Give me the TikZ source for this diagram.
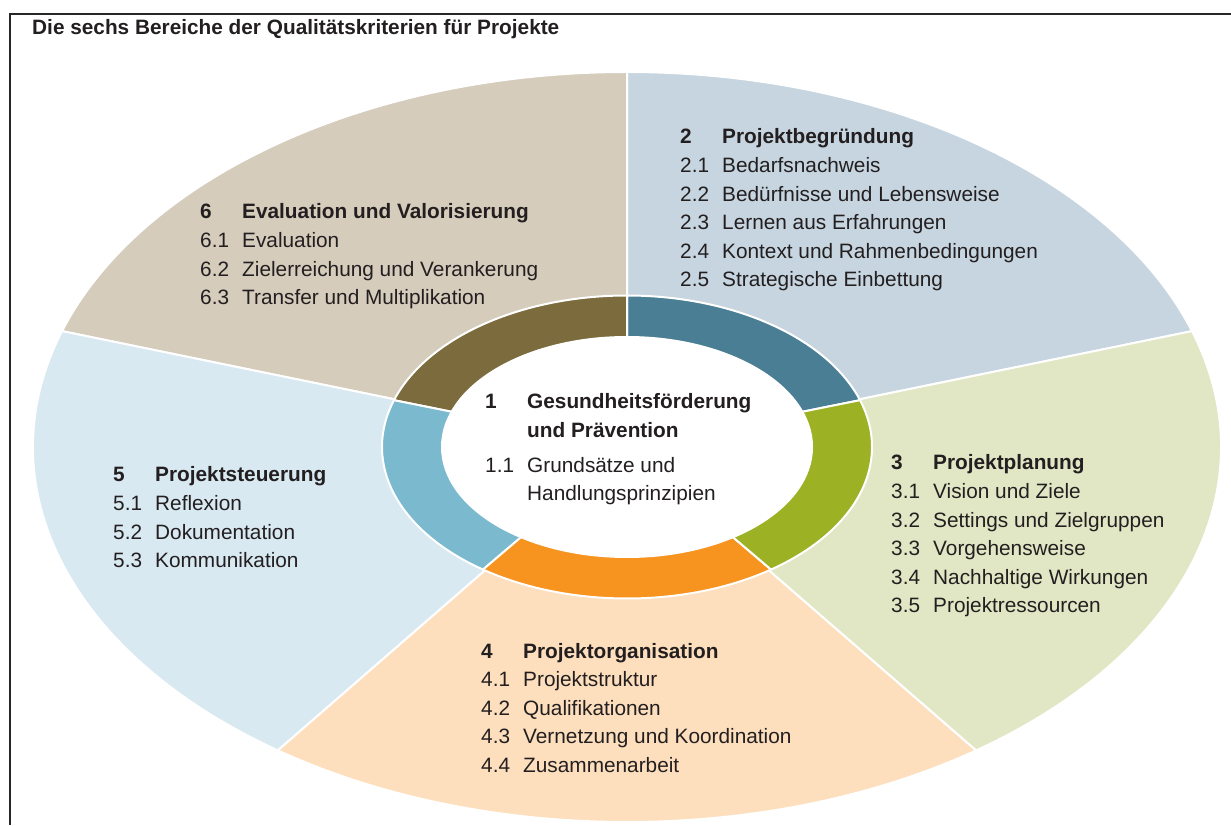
\documentclass[tikz,border=0pt]{standalone}
\usepackage{fontspec}
\setmainfont{Liberation Sans}
\usepackage{array}
\definecolor{txt}{HTML}{231F20}
\definecolor{oSix}{HTML}{D5CCBC}
\definecolor{oTwo}{HTML}{C6D5DF}
\definecolor{oThree}{HTML}{E1E7C4}
\definecolor{oFour}{HTML}{FDDFBE}
\definecolor{oFive}{HTML}{D8E9F1}
\definecolor{rSix}{HTML}{7B6B3D}
\definecolor{rTwo}{HTML}{4A7E94}
\definecolor{rThree}{HTML}{9CB224}
\definecolor{rFour}{HTML}{F7941F}
\definecolor{rFive}{HTML}{7BB9CF}
\newcommand\mywedge[5]{\filldraw[fill=#5, draw=white, line width=2pt, line join=round] (0,0) -- (#3:#1pt and #2pt) arc[start angle=#3, end angle=#4, x radius=#1pt, y radius=#2pt] -- cycle;}
\begin{document}
\begin{tikzpicture}[x=1pt,y=1pt,
  sect/.style={anchor=base west, inner sep=0pt, text=txt, font=\fontsize{20.8}{28.6}\selectfont},
  titletext/.style={anchor=base west, inner sep=0pt, text=txt, font=\bfseries\fontsize{20.8}{22}\selectfont}]
\useasboundingbox (0,0) rectangle (1231,825);
% frame
\draw[line width=1.6pt, black!85] (1231,811) -- (10,811) -- (10,0);
\node[titletext] (title) at (32,790) {Die sechs Bereiche der Qualitätskriterien für Projekte};
\begin{scope}[shift={(627,378)}]
  % outer sectors
  \mywedge{594}{375}{18}{90}{oTwo}
  \mywedge{594}{375}{90}{162}{oSix}
  \mywedge{594}{375}{162}{234}{oFive}
  \mywedge{594}{375}{234}{306}{oFour}
  \mywedge{594}{375}{-54}{18}{oThree}
  % ring
  \mywedge{245}{151.5}{18}{90}{rTwo}
  \mywedge{245}{151.5}{90}{162}{rSix}
  \mywedge{245}{151.5}{162}{234}{rFive}
  \mywedge{245}{151.5}{234}{306}{rFour}
  \mywedge{245}{151.5}{-54}{18}{rThree}
  % centre
  \filldraw[fill=white, draw=white, line width=2pt] (0,0) ellipse[x radius=185pt, y radius=110pt];
\end{scope}
\node[sect] (s2) at (680,681) {\begin{tabular}[t]{@{}p{42pt}@{}l@{}}
\textbf{2} & \textbf{Projektbegründung}\\
2.1 & Bedarfsnachweis\\
2.2 & Bedürfnisse und Lebensweise\\
2.3 & Lernen aus Erfahrungen\\
2.4 & Kontext und Rahmenbedingungen\\
2.5 & Strategische Einbettung
\end{tabular}};
\node[sect] (s6) at (200,606) {\begin{tabular}[t]{@{}p{42pt}@{}l@{}}
\textbf{6} & \textbf{Evaluation und Valorisierung}\\
6.1 & Evaluation\\
6.2 & Zielerreichung und Verankerung\\
6.3 & Transfer und Multiplikation
\end{tabular}};
\node[sect] (s1) at (485,416) {\begin{tabular}[t]{@{}p{42pt}@{}l@{}}
\textbf{1} & \textbf{Gesundheitsförderung}\\
 & \textbf{und Prävention}\\[6pt]
1.1 & Grundsätze und\\
 & Handlungsprinzipien
\end{tabular}};
\node[sect] (s3) at (891,355) {\begin{tabular}[t]{@{}p{42pt}@{}l@{}}
\textbf{3} & \textbf{Projektplanung}\\
3.1 & Vision und Ziele\\
3.2 & Settings und Zielgruppen\\
3.3 & Vorgehensweise\\
3.4 & Nachhaltige Wirkungen\\
3.5 & Projektressourcen
\end{tabular}};
\node[sect] (s4) at (481,167) {\begin{tabular}[t]{@{}p{42pt}@{}l@{}}
\textbf{4} & \textbf{Projektorganisation}\\
4.1 & Projektstruktur\\
4.2 & Qualifikationen\\
4.3 & Vernetzung und Koordination\\
4.4 & Zusammenarbeit
\end{tabular}};
\node[sect] (s5) at (113,343) {\begin{tabular}[t]{@{}p{42pt}@{}l@{}}
\textbf{5} & \textbf{Projektsteuerung}\\
5.1 & Reflexion\\
5.2 & Dokumentation\\
5.3 & Kommunikation
\end{tabular}};
\end{tikzpicture}
\end{document}
